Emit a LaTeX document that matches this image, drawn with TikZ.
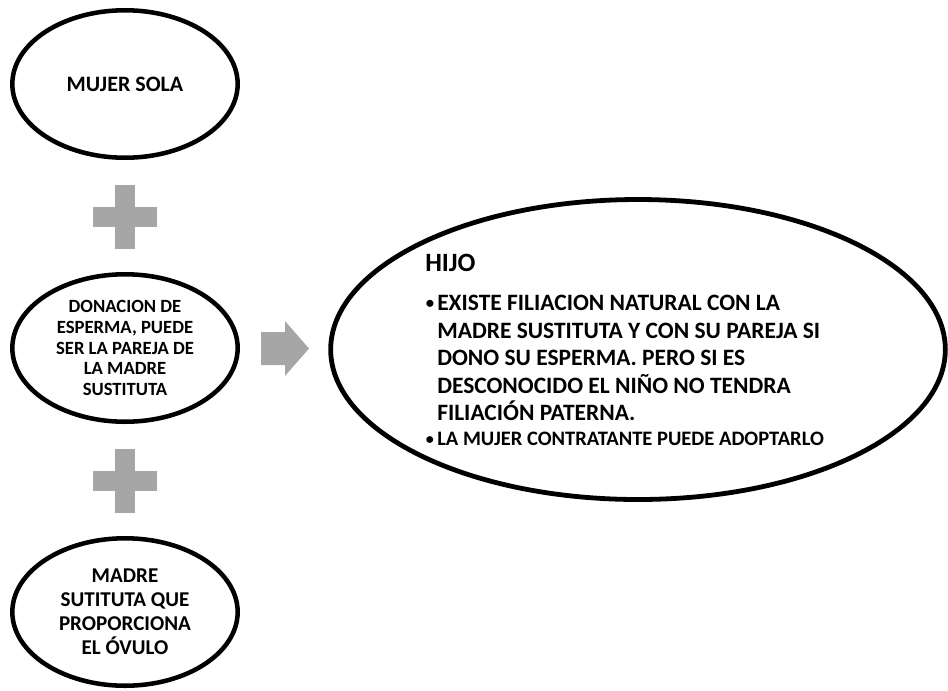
\documentclass[tikz,border=0pt]{standalone}
\usepackage{fontspec}
\setmainfont{Carlito}
\usetikzlibrary{shapes.geometric, positioning}

\definecolor{plusgray}{HTML}{A6A6A6}

\tikzset{
  oval/.style={ellipse, draw=black, line width=3.4pt, fill=white, inner sep=0pt,
    minimum width=169pt, minimum height=110.6pt, align=center},
  bigoval/.style={oval, line width=3.6pt, minimum width=461pt, minimum height=225pt},
  bar/.style={fill=plusgray, inner sep=0pt, draw=none},
  itemtext/.style={anchor=base west, align=left, inner sep=0pt},
}

\begin{document}
\begin{tikzpicture}[x=0.75pt, y=-0.75pt]
\useasboundingbox (0,0) rectangle (948,690);

% left column
\node[oval, font=\bfseries\fontsize{16.5}{19}\selectfont] (mujer) at (125,84) {MUJER SOLA};
\node[oval, font=\bfseries\fontsize{14}{15.5}\selectfont] (donacion) at (125,348)
  {DONACION DE\\ESPERMA, PUEDE\\SER LA PAREJA DE\\LA MADRE\\SUSTITUTA};
\node[oval, font=\bfseries\fontsize{15.8}{18}\selectfont] (madre) at (125,612)
  {MADRE\\SUTITUTA QUE\\PROPORCIONA\\EL ÓVULO};

% plus signs
\foreach \y [count=\i] in {216.5, 480.5} {
  \coordinate (plus\i) at (125,\y);
  \node[bar, minimum width=48pt, minimum height=15pt] at (plus\i) {};
  \node[bar, minimum width=15pt, minimum height=48pt] at (plus\i) {};
}

% arrow
\coordinate (flecha) at (309,348.5);
\fill[plusgray] (flecha) -- ++(-24,-27.5) -- ++(0,11) -- ++(-24,0) -- ++(0,33)
  -- ++(24,0) -- ++(0,11) -- cycle;

% result
\node[bigoval] (hijo) at (638,349.5) {};
\node[anchor=base west, inner sep=0pt, font=\bfseries\fontsize{19.8}{24}\selectfont] (titulo) at (425,271) {HIJO};
\node[anchor=north west, align=left, inner sep=0pt, font=\bfseries\fontsize{17.6}{20.6}\selectfont] (texto1) at (437,295)
  {EXISTE FILIACION NATURAL CON LA\\MADRE SUSTITUTA Y CON SU PAREJA SI\\DONO SU ESPERMA. PERO SI ES\\DESCONOCIDO EL NIÑO NO TENDRA\\FILIACIÓN PATERNA.};
\node[itemtext, font=\bfseries\fontsize{12.5}{15}\selectfont] (punto1) at (425.5,308.5) {•};
\node[itemtext, font=\bfseries\fontsize{15.4}{18}\selectfont] (texto2) at (437,445)
  {LA MUJER CONTRATANTE PUEDE ADOPTARLO};
\node[itemtext, font=\bfseries\fontsize{12}{14}\selectfont] (punto2) at (425.5,444) {•};
\end{tikzpicture}
\end{document}
